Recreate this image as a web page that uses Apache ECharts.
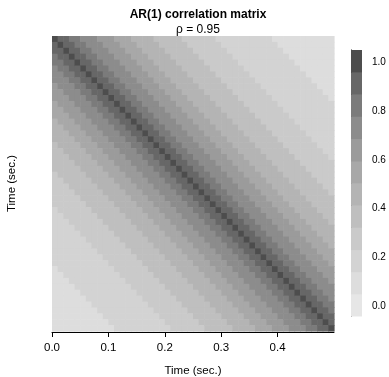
<!DOCTYPE html>
<html>
<head>
<meta charset="utf-8">
<script src="https://cdn.jsdelivr.net/npm/echarts@6/dist/echarts.min.js"></script>
<style>html,body{margin:0;padding:0;background:#fff;}#c{width:389px;height:377px;}</style>
</head>
<body>
<div id="c"></div>
<script>
// Time points (sec.)
var times = [0.00,0.01,0.02,0.03,0.04,0.05,0.06,0.07,0.08,0.09,
             0.10,0.11,0.12,0.13,0.14,0.15,0.16,0.17,0.18,0.19,
             0.20,0.21,0.22,0.23,0.24,0.25,0.26,0.27,0.28,0.29,
             0.30,0.31,0.32,0.33,0.34,0.35,0.36,0.37,0.38,0.39,
             0.40,0.41,0.42,0.43,0.44,0.45,0.46,0.47,0.48,0.49];
// correlation per lag |i-j| (rho = 0.95)
var lagCorr = [1.000,0.950,0.903,0.857,0.815,0.774,0.735,0.698,0.663,0.630,
               0.599,0.569,0.540,0.513,0.488,0.463,0.440,0.418,0.397,0.377,
               0.358,0.341,0.324,0.307,0.292,0.277,0.264,0.250,0.238,0.226,
               0.215,0.204,0.194,0.184,0.175,0.166,0.158,0.150,0.142,0.135,
               0.129,0.122,0.116,0.110,0.105,0.099,0.094,0.090,0.085,0.081];
var xTicks = [0.0,0.1,0.2,0.3,0.4];
var keyTicks = [0.0,0.2,0.4,0.6,0.8,1.0];
var breaks = [-0.041,0.050,0.141,0.232,0.323,0.414,0.505,0.596,0.688,0.779,0.870,0.961,1.052];

var bandColors = ['#e6e6e6','#dddddd','#d3d3d3','#cacaca','#bfbfbf','#b4b4b4','#a8a8a8','#9b9b9b','#8c8c8c','#7b7b7b','#676767','#4d4d4d'];
function bandOf(v){
  for (var k=0;k<breaks.length-1;k++){ if (v>=breaks[k] && v<breaks[k+1]) return k; }
  return breaks.length-2;
}
var cells = [];
for (var i=0;i<times.length;i++){
  for (var j=0;j<times.length;j++){
    cells.push([times[i], times[j], lagCorr[Math.abs(i-j)]]);
  }
}
var step = 0.01;
var bands = [];
for (var k=0;k<breaks.length-1;k++) bands.push([breaks[k], breaks[k+1], k]);

var chart = echarts.init(document.getElementById('c'), null, {renderer:'canvas'});
var font = 'Liberation Sans, Arial, Helvetica, sans-serif';
chart.setOption({
  animation:false,
  backgroundColor:'#fff',
  title:[
    {text:'AR(1) correlation matrix', left:193, top:4, textAlign:'center',
     textStyle:{fontFamily:font, fontSize:12, fontWeight:'bold', color:'#000'}},
    {text:'ρ = 0.95', left:193, top:19, textAlign:'center',
     textStyle:{fontFamily:font, fontSize:12, fontWeight:'normal', color:'#000'}}
  ],
  grid:[
    {left:52, top:36, width:282, height:295, containLabel:false, outerBoundsMode:'none'},
    {left:351, top:50, width:11, height:266, containLabel:false, outerBoundsMode:'none'}
  ],
  xAxis:[
    {type:'value', gridIndex:0, min:0, max:0.5, position:'bottom', offset:1,
     axisLine:{show:true, onZero:false, lineStyle:{color:'#000', width:1}},
     axisTick:{show:true, length:5, inside:false, customValues:xTicks, lineStyle:{color:'#000'}},
     axisLabel:{show:true, customValues:xTicks, margin:10, color:'#000', fontFamily:font, fontSize:11.5,
       formatter:function(v){return v.toFixed(1);}},
     splitLine:{show:false},
     name:'Time (sec.)', nameLocation:'middle', nameGap:33,
     nameTextStyle:{fontFamily:font, fontSize:11.5, color:'#000'}},
    {type:'value', gridIndex:1, min:0, max:1, show:false}
  ],
  yAxis:[
    {type:'value', gridIndex:0, min:0, max:0.5, inverse:true,
     axisLine:{show:false}, axisTick:{show:false}, axisLabel:{show:false}, splitLine:{show:false},
     name:'Time (sec.)', nameLocation:'middle', nameGap:34, nameRotate:90,
     nameTextStyle:{fontFamily:font, fontSize:11.5, color:'#000'}},
    {type:'value', gridIndex:1, min:breaks[0], max:breaks[breaks.length-1], position:'right',
     axisLine:{show:true, lineStyle:{color:'#000', width:1}},
     axisTick:{show:true, length:3, inside:false, customValues:keyTicks, lineStyle:{color:'#000'}},
     axisLabel:{show:true, customValues:keyTicks, margin:10, color:'#000', fontFamily:font, fontSize:10,
       formatter:function(v){return v.toFixed(1);}},
     splitLine:{show:false}}
  ],
  series:[
    {type:'custom', xAxisIndex:0, yAxisIndex:0, silent:true, data:cells,
     renderItem:function(params, api){
       var a = api.coord([api.value(0), api.value(1)]);
       var b = api.coord([api.value(0)+step, api.value(1)+step]);
       var x0=Math.min(a[0],b[0]), y0=Math.min(a[1],b[1]);
       return {type:'rect', shape:{x:x0, y:y0, width:Math.abs(b[0]-a[0])+0.6, height:Math.abs(b[1]-a[1])+0.6},
         style:{fill:bandColors[bandOf(api.value(2))]}};
     }},
    {type:'custom', xAxisIndex:1, yAxisIndex:1, silent:true, data:bands,
     renderItem:function(params, api){
       var a = api.coord([0, api.value(0)]);
       var b = api.coord([1, api.value(1)]);
       return {type:'rect', shape:{x:Math.min(a[0],b[0]), y:Math.min(a[1],b[1]), width:Math.abs(b[0]-a[0]), height:Math.abs(b[1]-a[1])+0.5},
         style:{fill:bandColors[api.value(2)]}};
     }}
  ]
});
</script>
</body>
</html>
